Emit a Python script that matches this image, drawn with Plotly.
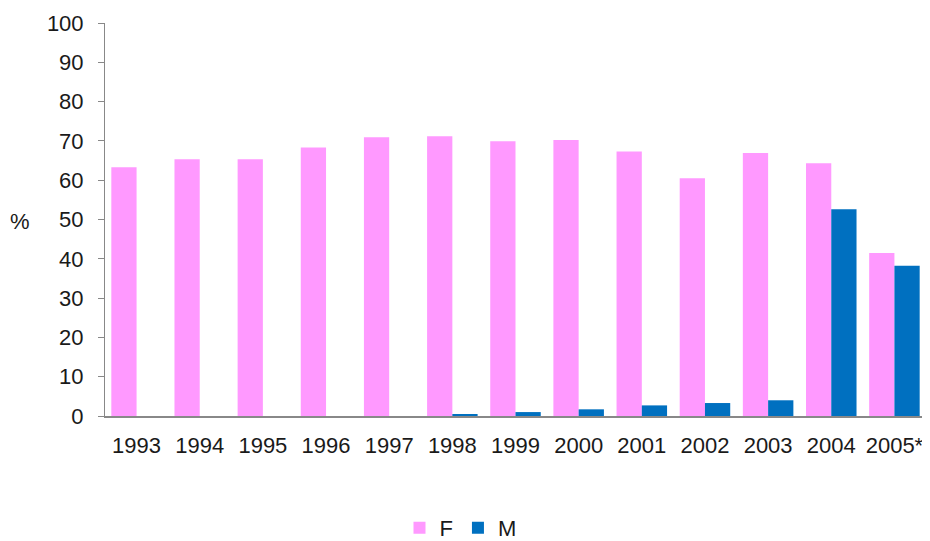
import plotly.graph_objects as go

# Datos
anios = ["1993", "1994", "1995", "1996", "1997", "1998", "1999",
         "2000", "2001", "2002", "2003", "2004", "2005*"]
valores_f = [63.3, 65.3, 65.3, 68.3, 70.9, 71.2, 69.9,
             70.2, 67.3, 60.5, 66.9, 64.3, 41.5]
valores_m = [0, 0, 0, 0, 0, 0.4, 1.0,
             1.7, 2.7, 3.3, 4.0, 52.6, 38.2]

fuente = "Liberation Sans, Arial, sans-serif"

fig = go.Figure()
fig.add_bar(x=anios, y=valores_f, name="F",
            marker=dict(color="#FF99FF", line=dict(width=0)))
fig.add_bar(x=anios, y=valores_m, name="M",
            marker=dict(color="#0070C0", line=dict(width=0)))

# la página deja 8 px de margen, se descuenta aquí
fig.update_layout(
    width=922, height=533,
    barmode="group", bargap=0.2, bargroupgap=0,
    plot_bgcolor="white", paper_bgcolor="white",
    margin=dict(l=97, r=4, t=15, b=125, autoexpand=False),
    font=dict(family=fuente, size=22, color="#1a1a1a"),
    legend=dict(orientation="h", x=0.433, xanchor="center", y=-0.285, yanchor="middle",
                font=dict(size=22), itemwidth=30, traceorder="normal"),
    showlegend=True,
)

fig.update_xaxes(showline=True, linecolor="#888888", linewidth=1.5,
                 ticks="", tickfont=dict(size=22), ticklabelstandoff=9,
                 automargin=False)
fig.update_yaxes(range=[0, 100], dtick=10, showgrid=False, zeroline=False,
                 showline=True, linecolor="#888888", linewidth=1,
                 ticks="outside", ticklen=6, tickcolor="#888888",
                 tickfont=dict(size=22), ticklabelstandoff=10, automargin=False)

fig.add_annotation(text="%", xref="x domain", yref="y domain",
                   x=-0.104, y=(416 - 222) / 393, xanchor="center", yanchor="middle",
                   showarrow=False, font=dict(size=22))

fig.write_html("out.html")
